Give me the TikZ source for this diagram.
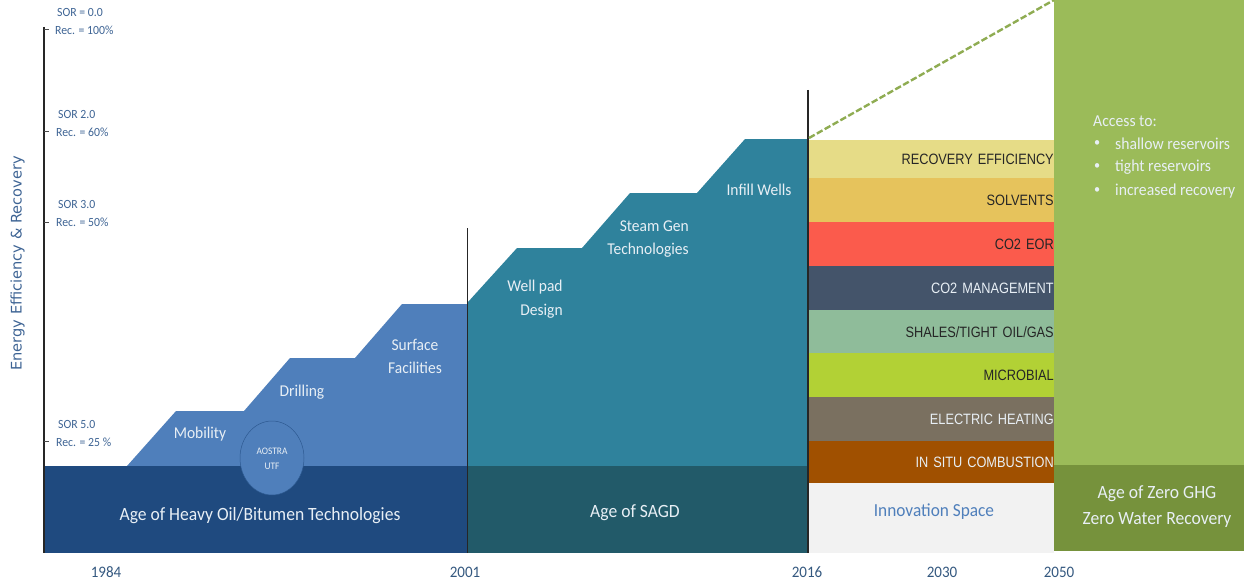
\documentclass[tikz,border=0pt]{standalone}
\usepackage{fontspec}
\usetikzlibrary{shapes.geometric}
\setmainfont{Carlito}[FakeStretch=0.94]
\newfontfamily\bandfont{Liberation Sans}[FakeStretch=0.85,WordSpace=0.7]
\newfontfamily\axisfont{DejaVu Sans}
\definecolor{heavy}{HTML}{1F4A7F}
\definecolor{stepblue}{HTML}{4F7FBB}
\definecolor{stepteal}{HTML}{2F829C}
\definecolor{sagd}{HTML}{225A69}
\definecolor{zerog}{HTML}{9BBB59}
\definecolor{zerod}{HTML}{76923C}
\definecolor{labelblue}{HTML}{3E6494}
\definecolor{yearblue}{HTML}{34587F}
\definecolor{palewhite}{HTML}{E8EFF5}
\definecolor{bandA}{HTML}{E6DC87}
\definecolor{bandB}{HTML}{E6C35C}
\definecolor{bandC}{HTML}{FB5B4C}
\definecolor{bandD}{HTML}{44546A}
\definecolor{bandE}{HTML}{8FBC9A}
\definecolor{bandF}{HTML}{B2D135}
\definecolor{bandG}{HTML}{7A7060}
\definecolor{bandH}{HTML}{A05000}
\definecolor{bandI}{HTML}{F2F2F2}
\newcommand{\fs}[1]{\fontsize{#1}{#1}\selectfont}
\tikzset{
  lbl/.style={inner sep=0pt,align=center},
  sorlbl/.style={lbl,text=labelblue,font=\fs{12.5},align=left,anchor=west},
  yearlbl/.style={lbl,text=yearblue,font=\fs{16}},
  steplbl/.style={lbl,text=palewhite,font=\fs{16.5}},
  agelbl/.style={lbl,text=palewhite,font=\fs{18.7}},
  bandbox/.style={anchor=north west,minimum width=245pt,text width=244pt,inner xsep=0pt,inner ysep=0pt,align=right,font=\bandfont\fs{15}},
  axisline/.style={draw=black!85,line width=1.5pt},
  tickline/.style={draw=black!70,line width=0.8pt},
  accesslbl/.style={lbl,text=palewhite,font=\fs{16.7},align=left,anchor=west},
}
\begin{document}
\begin{tikzpicture}[x=1pt,y=-1pt]
\useasboundingbox (0,0) rectangle (1244,583);
% ground areas
\fill[stepblue] (127,466) -- (176,411) -- (244,411) -- (290,358) -- (355,358) -- (402,304) -- (468,304) -- (468,466) -- cycle;
\fill[heavy] (43,466) rectangle (468,553);
\fill[stepteal] (468,302) -- (517,248) -- (582,248) -- (630,193) -- (697,193) -- (745,139) -- (808,139) -- (808,466) -- (468,466) -- cycle;
\fill[sagd] (468,466) rectangle (808,553);
% circle
\node[draw=heavy!70!stepblue,line width=0.5pt,fill=stepblue,ellipse,minimum width=64pt,minimum height=74pt,inner sep=0pt] (utf) at (272,458) {};
\node[lbl,text=palewhite,font=\fs{10}] (utft) at (272,458.5) {AOSTRA\\[5pt]UTF};
% innovation bands
\node[bandbox,fill=bandA,minimum height=38pt,text=black!85] (b1) at (809,140) {RECOVERY EFFICIENCY};
\node[bandbox,fill=bandB,minimum height=44pt,text=black!85] (b2) at (809,178) {SOLVENTS};
\node[bandbox,fill=bandC,minimum height=44pt,text=black!85] (b3) at (809,222) {CO2 EOR};
\node[bandbox,fill=bandD,minimum height=44pt,text=palewhite] (b4) at (809,266) {CO2 MANAGEMENT};
\node[bandbox,fill=bandE,minimum height=43pt,text=black!85] (b5) at (809,310) {SHALES/TIGHT OIL/GAS};
\node[bandbox,fill=bandF,minimum height=44pt,text=black!85] (b6) at (809,353) {MICROBIAL};
\node[bandbox,fill=bandG,minimum height=44pt,text=palewhite] (b7) at (809,397) {ELECTRIC HEATING};
\node[bandbox,fill=bandH,minimum height=42pt,text=palewhite] (b8) at (809,441) {IN SITU COMBUSTION};
\node[anchor=north west,minimum width=245pt,minimum height=70pt,inner sep=0pt,fill=bandI] (b9) at (809,483) {};
\node[lbl,text=stepblue,font=\fs{18.4}] (b9t) at (934,512) {Innovation Space};
% zero age
\fill[zerog] (1054,0) rectangle (1244,465);
\fill[zerod] (1054,465) rectangle (1244,551);
\node[agelbl] (zero) at (1157,506.5) {Age of Zero GHG\\[8pt]Zero Water Recovery};
% access
\node[accesslbl] (acc) at (1093,121) {Access to:};
\node[accesslbl,font=\fs{13}] (blt1) at (1094,144) {•};
\node[accesslbl,font=\fs{13}] (blt2) at (1094,167) {•};
\node[accesslbl,font=\fs{13}] (blt3) at (1094,191) {•};
\node[accesslbl] (a1) at (1115,144) {shallow reservoirs};
\node[accesslbl] (a2) at (1115,167) {tight reservoirs};
\node[accesslbl] (a3) at (1115,191) {increased recovery};
% age labels
\node[agelbl] (age1) at (260,516) {Age of Heavy Oil/Bitumen Technologies};
\node[agelbl] (age2) at (635,513) {Age of SAGD};
% step labels
\node[steplbl] (s1) at (200,434) {Mobility};
\node[steplbl] (s2) at (302,392) {Drilling};
\node[steplbl] (s3) at (415,356.5) {Surface\\[7pt]Facilities};
\node[steplbl,align=right] (s4) at (535,299) {Well pad\\[7pt]Design};
\node[steplbl,align=right] (s5) at (648,239) {Steam Gen\\[7pt]Technologies};
\node[steplbl] (s6) at (759,190) {Infill Wells};
% axis
\coordinate (axT) at (44,27);
\coordinate (axB) at (44,553);
\coordinate (l1T) at (467.5,228);
\coordinate (l1B) at (467.5,553);
\coordinate (l2T) at (808,90);
\coordinate (l2B) at (808,553);
\coordinate (dashA) at (809,138);
\coordinate (dashB) at (1054,0);
\draw[axisline] (axT) -- (axB);
\draw[axisline] (l1T) -- (l1B);
\draw[axisline] (l2T) -- (l2B);
\draw[draw=zerog!92!black,line width=2.4pt,dash pattern=on 6.5pt off 2.5pt] (dashA) -- (dashB);
\foreach \n/\y in {t1/29,t2/131,t3/222,t4/441}{
  \coordinate (\n a) at (44,\y);
  \coordinate (\n b) at (49,\y);
  \draw[tickline] (\n a) -- (\n b);
}
% SOR labels
\node[sorlbl] (r1a) at (57,12) {SOR = 0.0};
\node[sorlbl] (r1b) at (55,30) {Rec. = 100\%};
\node[sorlbl] (r2a) at (58,114) {SOR 2.0};
\node[sorlbl] (r2b) at (56,132) {Rec. = 60\%};
\node[sorlbl] (r3a) at (58,204) {SOR 3.0};
\node[sorlbl] (r3b) at (56,222) {Rec. = 50\%};
\node[sorlbl] (r4a) at (58,424) {SOR 5.0};
\node[sorlbl] (r4b) at (56,442) {Rec. = 25 \%};
\node[lbl,text=labelblue,font=\axisfont\fs{14.6},rotate=90] (yaxis) at (17.5,263.5) {Energy Efficiency \& Recovery};
% years
\node[yearlbl] (y1) at (106,572.5) {1984};
\node[yearlbl] (y2) at (465,572.5) {2001};
\node[yearlbl] (y3) at (807,572.5) {2016};
\node[yearlbl] (y4) at (942,572.5) {2030};
\node[yearlbl] (y5) at (1059,572.5) {2050};
\end{tikzpicture}
\end{document}
